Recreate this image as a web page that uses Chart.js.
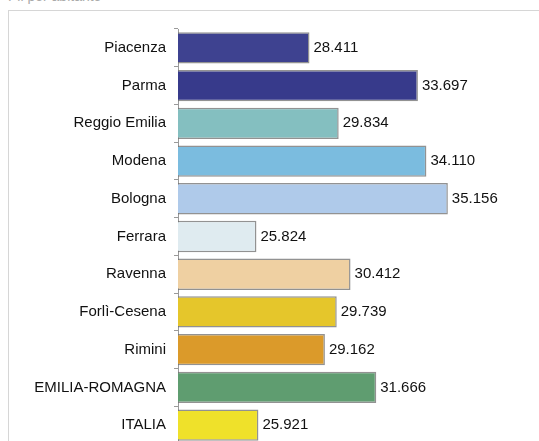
<!DOCTYPE html>
<html>
<head>
<meta charset="utf-8">
<script src="https://cdn.jsdelivr.net/npm/chart.js@4/dist/chart.umd.min.js"></script>
<style>
  html, body { margin: 0; padding: 0; background: #fff; overflow: hidden; }
  #wrap { position: relative; width: 539px; height: 441px; overflow: hidden; }
  #titolo { position: absolute; left: 8px; top: -12px; font: 14px "Liberation Sans", Arial, sans-serif; color: #aaa; }
  #cornice { position: absolute; left: 8px; top: 10px; right: 0; bottom: 0; border-top: 1px solid #d6d6d6; border-left: 1px solid #d6d6d6; }
  canvas { position: absolute; left: 0; top: 0; }
</style>
</head>
<body>
<div id="wrap">
  <div id="titolo">Pil per abitante</div>
  <div id="cornice"></div>
  <canvas id="grafico" width="539" height="461"></canvas>
</div>
<script>
// Pil per abitante per provincia (euro, in migliaia)
const province = ["Piacenza", "Parma", "Reggio Emilia", "Modena", "Bologna", "Ferrara",
  "Ravenna", "Forlì-Cesena", "Rimini", "EMILIA-ROMAGNA", "ITALIA"]
const valori = [28.411, 33.697, 29.834, 34.110, 35.156, 25.824, 30.412, 29.739, 29.162, 31.666, 25.921]
const etichette = ["28.411", "33.697", "29.834", "34.110", "35.156", "25.824", "30.412", "29.739", "29.162", "31.666", "25.921"]
const colori = ["#3e4290", "#373a8b", "#84bfc0", "#7bbcdf", "#afcaea", "#dfebf0",
  "#efd0a2", "#e5c62b", "#db9a2a", "#5f9d70", "#efe12a"]

// scrive il valore a destra di ogni barra
const valoriPlugin = {
  id: "valori",
  afterDatasetsDraw(chart) {
    const ctx = chart.ctx
    const meta = chart.getDatasetMeta(0)
    ctx.save()
    ctx.font = '15px "Liberation Sans", Arial, sans-serif'
    ctx.fillStyle = "#111"
    ctx.textAlign = "left"
    ctx.textBaseline = "middle"
    meta.data.forEach((bar, i) => {
      ctx.fillText(etichette[i], bar.x + 4, bar.y)
    })
    ctx.restore()
  }
}

new Chart(document.getElementById("grafico"), {
  type: "bar",
  data: {
    labels: province,
    datasets: [{
      data: valori,
      backgroundColor: colori,
      borderColor: "rgba(110, 110, 110, 0.75)",
      borderWidth: 1.5,
      categoryPercentage: 0.83,
      barPercentage: 1.0
    }]
  },
  options: {
    indexAxis: "y",
    responsive: false,
    animation: false,
    layout: { padding: { top: 29, right: 0, bottom: 0, left: 0 } },
    plugins: {
      legend: { display: false },
      tooltip: { enabled: false }
    },
    scales: {
      x: {
        display: false,
        min: 22,
        max: 39.6
      },
      y: {
        afterFit(scale) { scale.width = 178 },
        border: { display: true, color: "#9a9a9a", width: 1 },
        grid: { drawOnChartArea: false, tickLength: 4, color: "#9a9a9a" },
        ticks: {
          padding: 8,
          color: "#111",
          font: { family: '"Liberation Sans", Arial, sans-serif', size: 15 }
        }
      }
    }
  },
  plugins: [valoriPlugin]
})
</script>
</body>
</html>
